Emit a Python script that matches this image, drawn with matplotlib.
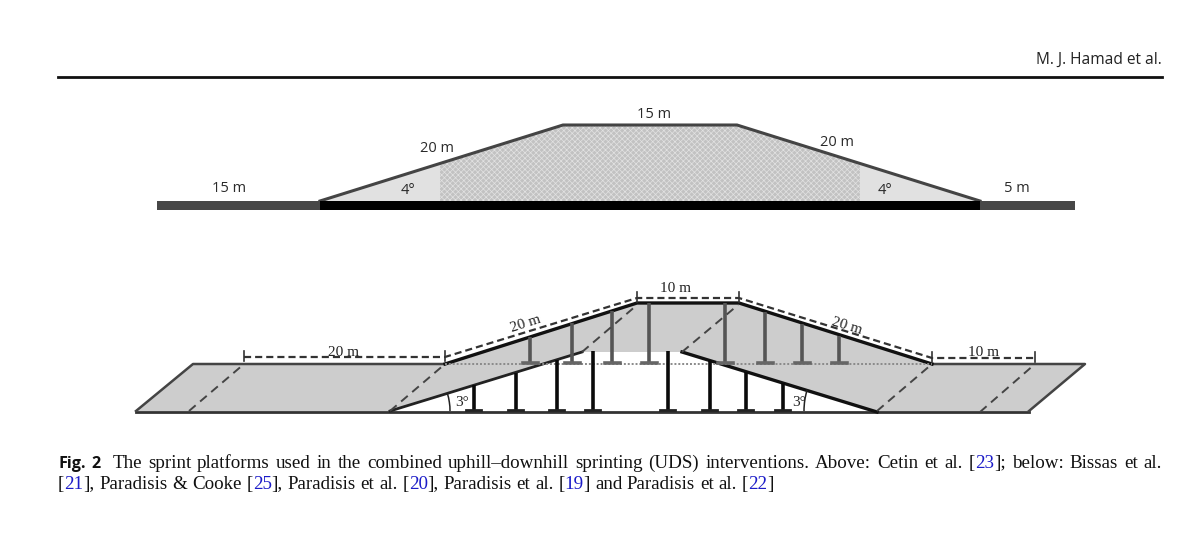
import numpy as np
import matplotlib
matplotlib.use("Agg")
import matplotlib.pyplot as plt
from matplotlib.patches import Polygon, Arc, Rectangle

# ---- Geometry (pixel-like coordinates) ----
UP_RAMP_X = [320, 563, 737, 980]
UP_RAMP_Y = [201, 125, 125, 201]
UP_PLAIN_X = [320, 440, 860, 980]
UP_BAR_LEFT = [157, 320]
UP_BAR_MID = [320, 980]
UP_BAR_RIGHT = [980, 1075]

LOW_LEFT_X = [136, 193, 445, 390]
LOW_RIGHT_X = [877, 932, 1085, 1029]
LOW_TOP_Y = 364
LOW_BOT_Y = 411
LOW_BRIDGE_X = [390, 582, 682, 877, 932, 739, 637, 445]
LOW_BRIDGE_Y = [411, 352, 352, 412, 364, 303, 303, 364]

BLACK_POST_X = [474, 516, 557, 593, 668, 710, 746, 783]
BLACK_POST_TOP = [385, 373, 360, 351, 351, 360, 372, 383]
GREY_POST_X = [530, 572, 612, 649, 725, 765, 802, 839]
GREY_POST_TOP = [337, 323, 311, 303, 303, 312, 324, 336]

SLANT_BOTTOM_X = [189, 390, 582, 682, 877, 980]
SLANT_BOTTOM_Y = [411, 411, 352, 352, 411, 412]
SLANT_TOP_X = [244, 445, 637, 738, 932, 1035]
SLANT_TOP_Y = [364, 364, 305, 305, 364, 364]

DIM_X = [244, 445, 637, 739, 932, 1035]
DIM_Y = [357, 357, 298, 298, 358, 358]

UP_LABELS = ["15 m", "20 m", "15 m", "20 m", "4\u00b0", "4\u00b0", "5 m"]
UP_LABEL_X = [229, 437, 654, 837, 408, 885, 1017]
UP_LABEL_Y = [188, 148, 115, 143, 190, 190, 189]

LOW_LABELS = ["20 m", "20 m", "10 m", "20 m", "10 m", "3\u00b0", "3\u00b0"]
LOW_LABEL_X = [344, 526, 675, 847, 983, 462, 799]
LOW_LABEL_Y = [353, 324, 288, 326, 352, 403, 403]
LOW_LABEL_ROT = [0, 18, 0, -17, 0, 0, 0]

HEADER = "M. J. Hamad et al."
CAPTION_1 = [("Fig. 2", "b"), ("  The sprint platforms used in the combined uphill\u2013downhill sprinting (UDS) interventions. Above: Cetin et al. [", "k"),
             ("23", "r"), ("]; below: Bissas et al.", "k")]
CAPTION_2 = [("[", "k"), ("21", "r"), ("], Paradisis & Cooke [", "k"), ("25", "r"), ("], Paradisis et al. [", "k"),
             ("20", "r"), ("], Paradisis et al. [", "k"), ("19", "r"), ("] and Paradisis et al. [", "k"), ("22", "r"), ("]", "k")]

plt.rcParams["hatch.linewidth"] = 0.5
plt.rcParams["hatch.color"] = "#e2e2e2"

fig = plt.figure(figsize=(12, 5.36), dpi=100, facecolor="white")
ax = fig.add_axes([0, 0, 1, 1])
ax.set_xlim(0, 1200)
ax.set_ylim(536, 0)
ax.axis("off")

# header
ax.text(1162, 60, HEADER, ha="right", va="center", fontsize=11.2, family="Open Sans", color="#222222")
ax.plot([58, 1162], [77, 77], color="#111111", lw=2)

# ---- upper platform ----
def ramp_y(x):
    return np.interp(x, UP_RAMP_X[:2], UP_RAMP_Y[:2]) if x < UP_RAMP_X[1] else np.interp(x, UP_RAMP_X[2:], UP_RAMP_Y[2:])

ax.add_patch(Polygon(list(zip(UP_RAMP_X, UP_RAMP_Y)), closed=True, fc="#e1e1e1", ec="none", zorder=1))
hx = [UP_PLAIN_X[1], UP_PLAIN_X[1], UP_RAMP_X[1], UP_RAMP_X[2], UP_PLAIN_X[2], UP_PLAIN_X[2]]
hy = [UP_RAMP_Y[0], ramp_y(UP_PLAIN_X[1]), UP_RAMP_Y[1], UP_RAMP_Y[2], ramp_y(UP_PLAIN_X[2]), UP_RAMP_Y[3]]
ax.add_patch(Polygon(list(zip(hx, hy)), closed=True, fc="#c2c2c2", hatch="xxxxxx", lw=0, zorder=2))
ax.plot(UP_RAMP_X, UP_RAMP_Y, color="#444444", lw=2.2, zorder=3, solid_joinstyle="miter")
ax.add_patch(Rectangle((UP_BAR_LEFT[0], 201), UP_BAR_LEFT[1] - UP_BAR_LEFT[0], 9, fc="#474747", ec="none", zorder=3))
ax.add_patch(Rectangle((UP_BAR_MID[0], 201), UP_BAR_MID[1] - UP_BAR_MID[0], 9, fc="#000000", ec="none", zorder=4))
ax.add_patch(Rectangle((UP_BAR_RIGHT[0], 201), UP_BAR_RIGHT[1] - UP_BAR_RIGHT[0], 9, fc="#474747", ec="none", zorder=3))
for s, x, y in zip(UP_LABELS, UP_LABEL_X, UP_LABEL_Y):
    ax.text(x, y, s, ha="center", va="center", fontsize=10.5, family="Open Sans", weight="medium", color="#2a2a2a", zorder=6)

# ---- lower platform ----
GREY = "#cdcdcd"
left = [(LOW_LEFT_X[0], LOW_BOT_Y), (LOW_LEFT_X[1], LOW_TOP_Y), (LOW_LEFT_X[2], LOW_TOP_Y), (LOW_LEFT_X[3], LOW_BOT_Y)]
right = [(LOW_RIGHT_X[0], LOW_BOT_Y), (LOW_RIGHT_X[1], LOW_TOP_Y), (LOW_RIGHT_X[2], LOW_TOP_Y), (LOW_RIGHT_X[3], LOW_BOT_Y)]
ax.add_patch(Polygon(left, closed=True, fc=GREY, ec="none", zorder=1))
ax.add_patch(Polygon(right, closed=True, fc=GREY, ec="none", zorder=1))
ax.add_patch(Polygon(list(zip(LOW_BRIDGE_X, LOW_BRIDGE_Y)), closed=True, fc=GREY, ec="none", zorder=1))

# ground and edges
ax.plot([LOW_LEFT_X[0], LOW_RIGHT_X[3]], [LOW_BOT_Y + 0.5] * 2, color="#333333", lw=2, zorder=3)
ax.plot(LOW_LEFT_X[:3], [LOW_BOT_Y, LOW_TOP_Y, LOW_TOP_Y], color="#444444", lw=1.8, zorder=3)
ax.plot(LOW_RIGHT_X[1:3] + [LOW_RIGHT_X[3]], [LOW_TOP_Y, LOW_TOP_Y, LOW_BOT_Y], color="#444444", lw=1.8, zorder=3)
ax.plot(LOW_BRIDGE_X[:2], LOW_BRIDGE_Y[:2], color="#222222", lw=2, zorder=3)
ax.plot(LOW_BRIDGE_X[2:4], LOW_BRIDGE_Y[2:4], color="#111111", lw=2.4, zorder=3)
ax.plot(LOW_BRIDGE_X[4:], LOW_BRIDGE_Y[4:], color="#111111", lw=2.4, zorder=3)
ax.plot([LOW_BRIDGE_X[7], LOW_BRIDGE_X[4]], [LOW_TOP_Y, LOW_TOP_Y], color="#8a8a8a", lw=1.4, ls=(0, (1, 1)), zorder=3)

# posts
for x, t in zip(BLACK_POST_X, BLACK_POST_TOP):
    ax.plot([x, x], [t, LOW_BOT_Y], color="#0a0a0a", lw=2.6, zorder=4, solid_capstyle="butt")
    ax.plot([x - 8, x + 7], [LOW_BOT_Y - 1, LOW_BOT_Y - 1], color="#222222", lw=2, zorder=4)
for x, t in zip(GREY_POST_X, GREY_POST_TOP):
    ax.plot([x, x], [t, 362], color="#555555", lw=2.6, zorder=4, solid_capstyle="butt")
    ax.plot([x - 7.5, x + 7.5], [362.5, 362.5], color="#666666", lw=2.6, zorder=4)

# slanted dashed lines
for x0, y0, x1, y1 in zip(SLANT_BOTTOM_X, SLANT_BOTTOM_Y, SLANT_TOP_X, SLANT_TOP_Y):
    ax.plot([x0, x1], [y0, y1], color="#444444", lw=1.4, ls=(0, (4.5, 3)), zorder=5)

# dimension lines
ax.plot(DIM_X, DIM_Y, color="#333333", lw=1.6, ls=(0, (3.2, 1.8)), zorder=5)
for x, y in zip(DIM_X, DIM_Y):
    ax.plot([x, x], [y - 6, y + 4], color="#333333", lw=1.2, zorder=5)

# angle arcs
ax.add_patch(Arc((LOW_BRIDGE_X[0], LOW_BOT_Y), 120, 120, theta1=343, theta2=360, ec="#222222", lw=1.1, zorder=5))
ax.add_patch(Arc((LOW_BRIDGE_X[3], LOW_BOT_Y), 146, 146, theta1=180, theta2=197, ec="#222222", lw=1.1, zorder=5))

for s, x, y, r in zip(LOW_LABELS, LOW_LABEL_X, LOW_LABEL_Y, LOW_LABEL_ROT):
    ax.text(x, y, s, ha="center", va="center", fontsize=11, family="Liberation Serif", rotation=r,
            color="#222222", zorder=6)

# ---- caption ----
fig.canvas.draw()
rend = fig.canvas.get_renderer()
PROPS = {"b": dict(family="Open Sans", weight="bold", color="#111111", fontsize=11.6),
         "k": dict(family="Liberation Serif", color="#111111", fontsize=13.7),
         "r": dict(family="Liberation Serif", color="#1c1cc8", fontsize=13.7)}

def measure(s, k):
    t = ax.text(0, 0, "|" + s + "|", **PROPS[k])
    w1 = t.get_window_extent(rend).width
    t.set_text("||")
    w0 = t.get_window_extent(rend).width
    t.remove()
    return w1 - w0

def draw_line(parts, x, y, target=None):
    # split into word pieces, so that a justified line can widen its spaces
    pieces = []
    for s, k in parts:
        words = s.split(" ")
        for i, w in enumerate(words):
            if w:
                pieces.append((w, k, 0))
            if i < len(words) - 1:
                pieces.append((" ", k, 1))
    widths = [measure(w, k) for w, k, _ in pieces]
    spaces = sum(p[2] for p in pieces)
    pad = 0 if target is None else (target - x - sum(widths)) / spaces
    cur = x
    for (w, k, sp), wd in zip(pieces, widths):
        if not sp:
            ax.text(cur, y, w, ha="left", va="baseline", zorder=6, **PROPS[k])
        cur += wd + (pad if sp else 0)

draw_line(CAPTION_1, 58, 468, target=1162)
draw_line(CAPTION_2, 58, 489)

fig.savefig("out.png", dpi=100, facecolor="white")
